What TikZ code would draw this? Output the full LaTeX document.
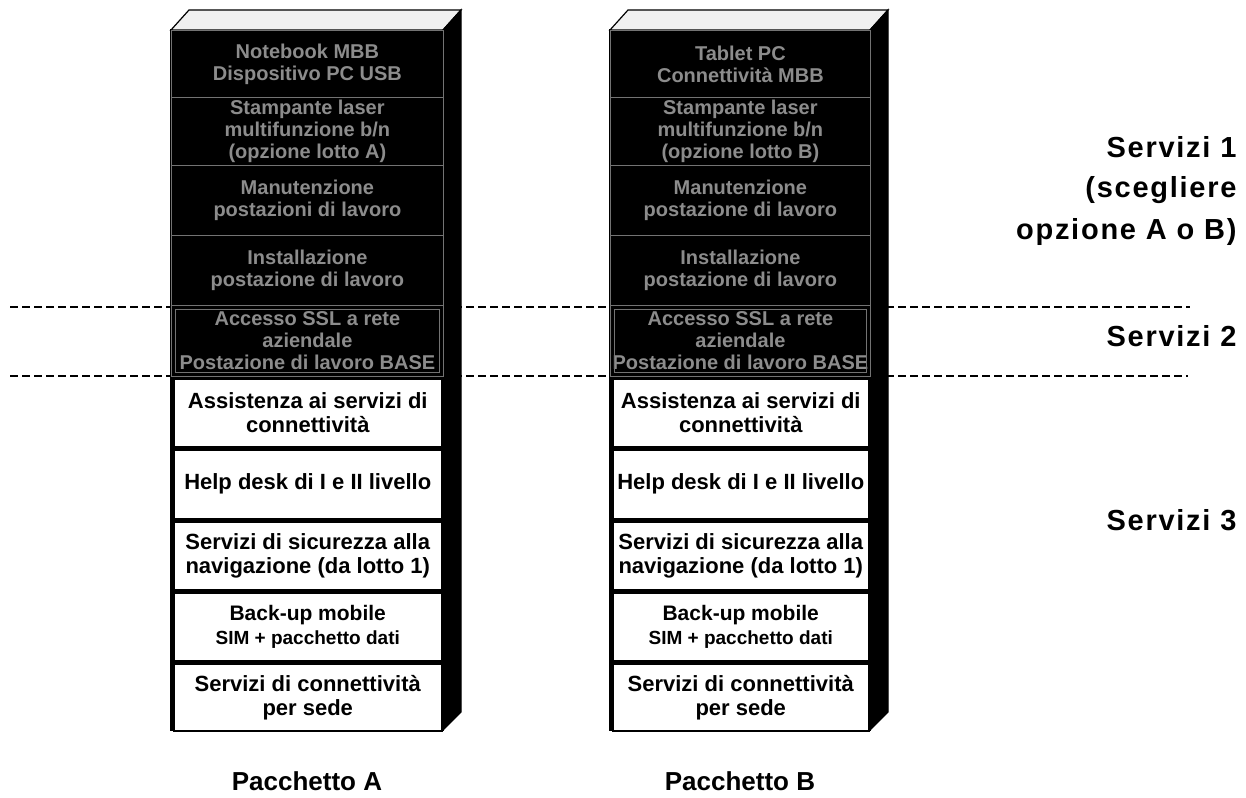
\documentclass[tikz,border=0pt]{standalone}
\usepackage{fontspec}
\setmainfont{Liberation Sans}
\newfontfamily\spacedsans[LetterSpace=6]{Liberation Sans}
\begin{document}
\begin{tikzpicture}[x=1pt,y=-1pt,
  face/.style={draw=black,line width=1.2pt},
  topface/.style={face,fill=black!6},
  sideface/.style={face,fill=black},
  darkbox/.style={draw=black!55,line width=0.8pt,fill=black,anchor=north west,
    inner sep=0pt,align=center,text=black!45,
    font=\bfseries\fontsize{20}{22}\selectfont},
  lightbox/.style={draw=black,line width=1.5pt,fill=white,anchor=north west,
    inner sep=0pt,align=center,font=\bfseries\fontsize{22}{24}\selectfont},
  sep/.style={dash pattern=on 8pt off 4pt,line width=2.4pt},
  sidelabel/.style={font=\spacedsans\bfseries\fontsize{29}{32}\selectfont,anchor=east},
  pkglabel/.style={font=\bfseries\fontsize{26}{30}\selectfont}
]
\useasboundingbox (0,0) rectangle (1246,797);

% boundaries between service levels
\coordinate (d1l) at (10,307);
\coordinate (d1r) at (1190,307);
\coordinate (d2l) at (10,376);
\coordinate (d2r) at (1188,376);
\draw[sep] (d1l) -- (d1r);
\draw[sep] (d2l) -- (d2r);

% ---------------- stack A ----------------
\draw[face,fill=black] (171,30) rectangle (443,730);
\draw[topface] (171,30) -- (189,10) -- (461,10) -- (443,30) -- cycle;
\draw[sideface] (443,30) -- (461,10) -- (461,712) -- (443,730) -- cycle;

\node[darkbox,minimum width=272,minimum height=67] (a1) at (171,30)
  {Notebook MBB\\Dispositivo PC USB};
\node[darkbox,minimum width=272,minimum height=68] (a2) at (171,97)
  {Stampante laser\\multifunzione b/n\\(opzione lotto A)};
\node[darkbox,minimum width=272,minimum height=70] (a3) at (171,165)
  {Manutenzione\\postazioni di lavoro};
\node[darkbox,minimum width=272,minimum height=70] (a4) at (171,235)
  {Installazione\\postazione di lavoro};
\node[darkbox,minimum width=272,minimum height=71] (a5) at (171,305)
  {Accesso SSL a rete\\aziendale\\Postazione di lavoro BASE};
\draw[black!55,line width=1pt] ([shift={(4,4)}]a5.north west)
  rectangle ([shift={(-4,-4)}]a5.south east);

\node[lightbox,minimum width=268,minimum height=68] (a6) at (173,378)
  {Assistenza ai servizi di\\connettività};
\node[lightbox,minimum width=268,minimum height=69] (a7) at (173,449)
  {Help desk di I e II livello};
\node[lightbox,minimum width=268,minimum height=68] (a8) at (173,521)
  {Servizi di sicurezza alla\\navigazione (da lotto 1)};
\node[lightbox,minimum width=268,minimum height=68] (a9) at (173,592)
  {\fontsize{21}{23}\selectfont Back-up mobile\\\fontsize{19}{22}\selectfont SIM + pacchetto dati};
\node[lightbox,minimum width=268,minimum height=67] (a10) at (173,663)
  {Servizi di connettività\\per sede};

% ---------------- stack B ----------------
\draw[face,fill=black] (610,30) rectangle (870,730);
\draw[topface] (610,30) -- (628,10) -- (888,10) -- (870,30) -- cycle;
\draw[sideface] (870,30) -- (888,10) -- (888,712) -- (870,730) -- cycle;

\node[darkbox,minimum width=260,minimum height=67] (b1) at (610,30)
  {Tablet PC\\Connettività MBB};
\node[darkbox,minimum width=260,minimum height=68] (b2) at (610,97)
  {Stampante laser\\multifunzione b/n\\(opzione lotto B)};
\node[darkbox,minimum width=260,minimum height=70] (b3) at (610,165)
  {Manutenzione\\postazione di lavoro};
\node[darkbox,minimum width=260,minimum height=70] (b4) at (610,235)
  {Installazione\\postazione di lavoro};
\node[darkbox,minimum width=260,minimum height=71] (b5) at (610,305)
  {Accesso SSL a rete\\aziendale\\Postazione di lavoro BASE};
\draw[black!55,line width=1pt] ([shift={(4,4)}]b5.north west)
  rectangle ([shift={(-4,-4)}]b5.south east);

\node[lightbox,minimum width=256,minimum height=68] (b6) at (612,378)
  {Assistenza ai servizi di\\connettività};
\node[lightbox,minimum width=256,minimum height=69] (b7) at (612,449)
  {Help desk di I e II livello};
\node[lightbox,minimum width=256,minimum height=68] (b8) at (612,521)
  {Servizi di sicurezza alla\\navigazione (da lotto 1)};
\node[lightbox,minimum width=256,minimum height=68] (b9) at (612,592)
  {\fontsize{21}{23}\selectfont Back-up mobile\\\fontsize{19}{22}\selectfont SIM + pacchetto dati};
\node[lightbox,minimum width=256,minimum height=67] (b10) at (612,663)
  {Servizi di connettività\\per sede};

% ---------------- labels ----------------
\node[pkglabel] (pa) at (307,781) {Pacchetto A};
\node[pkglabel] (pb) at (740,781) {Pacchetto B};

\node[sidelabel] (s1a) at (1240,147) {Servizi 1};
\node[sidelabel] (s1b) at (1240,190) {(scegliere};
\node[sidelabel] (s1c) at (1240,232) {opzione A o B)};
\node[sidelabel] (s2) at (1240,336) {Servizi 2};
\node[sidelabel] (s3) at (1240,520) {Servizi 3};
\end{tikzpicture}
\end{document}
